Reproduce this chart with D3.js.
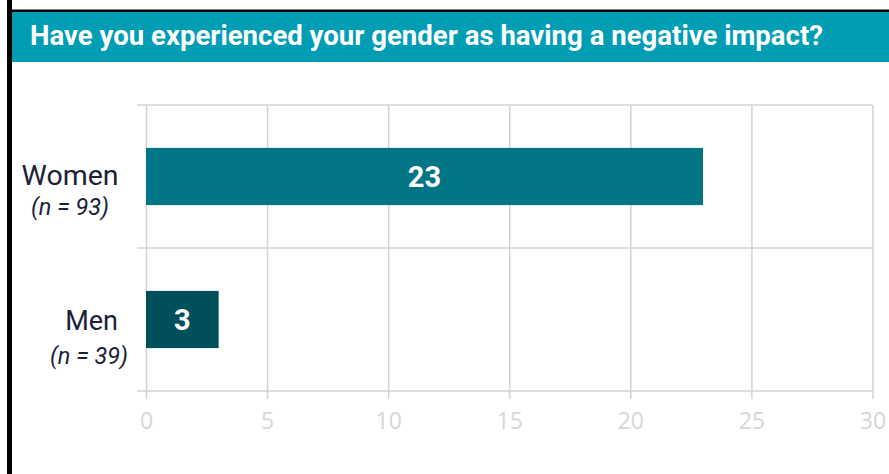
<!DOCTYPE html>
<html>
<head>
<meta charset="utf-8">
<script src="https://cdn.jsdelivr.net/npm/d3@7"></script>
<style>
  body { margin: 0; background: #fff; }
  svg { display: block; }
</style>
</head>
<body>
<div class="chart_contain"></div>
<script>
// data
var groups = ["Women", "Men"];
var groupNotes = ["(n = 93)", "(n = 39)"];
var counts = [23, 3];
var xTicks = [0, 5, 10, 15, 20, 25, 30];
var titleText = "Have you experienced your gender as having a negative impact?";

var barColors = ["#007585", "#00505c"];

var svg_width = 889;
var svg_height = 474;
var margins = { top: 105, bottom: 83, right: 16, left: 146 };
var height = svg_height - margins.top - margins.bottom;
var width = svg_width - margins.left - margins.right;

var svg = d3.select(".chart_contain")
            .append("svg")
            .attr("width", svg_width)
            .attr("height", svg_height);

// title band + black frame
svg.append("rect")
   .attr("x", 12).attr("y", 12)
   .attr("width", svg_width - 12).attr("height", 50)
   .style("fill", "#009db5");
svg.append("rect")
   .attr("x", 7).attr("y", 9.5)
   .attr("width", svg_width - 7).attr("height", 2.5)
   .style("fill", "#000");
svg.append("rect")
   .attr("x", 7).attr("y", 0)
   .attr("width", 5).attr("height", svg_height)
   .style("fill", "#000");

svg.append("text")
   .attr("x", 30)
   .attr("y", 45)
   .attr("textLength", 793)
   .attr("lengthAdjust", "spacingAndGlyphs")
   .text(titleText)
   .style("font-family", "Roboto")
   .style("font-weight", "700")
   .style("font-size", "27px")
   .style("fill", "#fff");

var g = svg.append("g")
           .attr("transform", "translate(" + margins.left + "," + margins.top + ")");

var x = d3.scaleLinear()
          .domain([0, 30])
          .range([0, width - 0.5]);

var y = d3.scaleBand()
          .domain(groups)
          .range([0, height])
          .paddingInner(0.6)
          .paddingOuter(0.3);

var gridColor = "#d3d3d3";

// vertical gridlines
var xGrid = d3.axisBottom(x)
              .tickValues(xTicks)
              .tickSize(-height)
              .tickFormat("");
g.append("g")
 .attr("class", "x grid")
 .attr("transform", "translate(0," + height + ")")
 .call(xGrid)
 .call(s => s.select(".domain").remove())
 .call(s => s.selectAll("line").style("stroke", gridColor).style("stroke-width", 1.5));

// horizontal category separators
var edges = [0].concat(groups.map(d => y(d) + y.bandwidth() + y.step() * 0.3));
g.selectAll("line.sep")
 .data(edges)
 .enter()
 .append("line")
 .attr("class", "sep")
 .attr("x1", -9)
 .attr("x2", x(30))
 .attr("y1", d => d)
 .attr("y2", d => d)
 .style("stroke", gridColor)
 .style("stroke-width", 1.5);

// bottom axis
var xAxis = d3.axisBottom(x)
              .tickValues(xTicks)
              .tickSize(8)
              .tickPadding(14);
g.append("g")
 .attr("class", "x axis")
 .attr("transform", "translate(0," + height + ")")
 .call(xAxis)
 .call(s => s.select(".domain").remove())
 .call(s => s.selectAll("line").style("stroke", gridColor).style("stroke-width", 1.5))
 .call(s => s.selectAll("text")
             .style("font-family", "Open Sans")
             .style("font-size", "23px")
             .style("fill", "#d6d6d6"));

// bars
g.selectAll("rect.bar")
 .data(counts)
 .enter()
 .append("rect")
 .attr("class", "bar")
 .attr("x", x(0))
 .attr("y", (d, i) => y(groups[i]))
 .attr("width", d => x(d) - x(0))
 .attr("height", y.bandwidth())
 .style("fill", (d, i) => barColors[i]);

g.selectAll("text.val")
 .data(counts)
 .enter()
 .append("text")
 .attr("class", "val")
 .attr("x", d => (x(0) + x(d)) / 2)
 .attr("y", (d, i) => y(groups[i]) + y.bandwidth() / 2)
 .attr("dy", "0.36em")
 .attr("text-anchor", "middle")
 .text(d => d)
 .style("font-family", "Roboto")
 .style("font-weight", "700")
 .style("font-size", "29px")
 .style("fill", "#fff");

// category labels (two lines each)
var labelG = g.selectAll("g.lab")
              .data(groups)
              .enter()
              .append("g")
              .attr("class", "lab")
              .attr("transform", d => "translate(0," + (y(d) + y.bandwidth() / 2) + ")");

labelG.append("text")
      .attr("x", (d, i) => i == 0 ? -76 : -28)
      .attr("y", (d, i) => i == 0 ? 8.5 : 10)
      .attr("text-anchor", (d, i) => i == 0 ? "middle" : "end")
      .text(d => d)
      .style("font-family", "Roboto")
      .style("font-size", (d, i) => i == 0 ? "28.5px" : "27px")
      .style("fill", "#1b2238");

labelG.append("text")
      .attr("x", (d, i) => i == 0 ? -76 : -18)
      .attr("y", (d, i) => i == 0 ? 38.5 : 44)
      .attr("text-anchor", (d, i) => i == 0 ? "middle" : "end")
      .text((d, i) => groupNotes[i])
      .style("font-family", "Roboto")
      .style("font-style", "italic")
      .style("font-size", "23.5px")
      .style("fill", "#1b2238");
</script>
</body>
</html>
